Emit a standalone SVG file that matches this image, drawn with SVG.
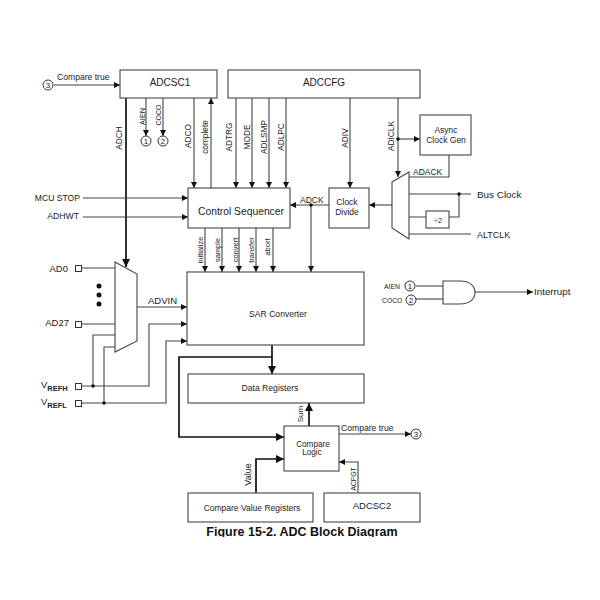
<svg xmlns="http://www.w3.org/2000/svg" width="600" height="600" viewBox="0 0 600 600">
<style>
text{font-family:"Liberation Sans",Arial,sans-serif;fill:#222;font-size:8px}
.box{fill:#fff;stroke:#444;stroke-width:1.1}
.c{fill:none;stroke:#444;stroke-width:1.1}
.a{marker-end:url(#ah)}
.t{fill:none;stroke:#111;stroke-width:1.7}
.ta{marker-end:url(#ahb)}
.dot{fill:#111}
.m{text-anchor:middle}
.l{font-size:10px}
.n{font-size:9.5px}
.r{font-size:8.3px;text-anchor:middle}
.pin{fill:#fff;stroke:#333;stroke-width:1}
.sub{font-size:7.5px;font-weight:bold}
</style>
<defs>
<marker id="ah" markerUnits="userSpaceOnUse" markerWidth="7" markerHeight="7" refX="6" refY="3" orient="auto"><path d="M0,0 L6,3 L0,6 Z" fill="#111"/></marker>
<marker id="ahb" markerUnits="userSpaceOnUse" markerWidth="9" markerHeight="9" refX="8" refY="4" orient="auto"><path d="M0,0 L8,4 L0,8 Z" fill="#111"/></marker>
</defs>
<rect width="600" height="600" fill="#fff"/>
<g id="connectors">
<path class="c a" d="M54,85H120"/>
<path class="t ta" d="M126,98V267"/>
<path class="c a" d="M146,98V136"/>
<path class="c a" d="M163,98V136"/>
<path class="c a" d="M194,98V188"/>
<path class="c a" d="M211,188V98"/>
<path class="c a" d="M236,98V188"/>
<path class="c a" d="M252,98V188"/>
<path class="c a" d="M269,98V188"/>
<path class="c a" d="M286,98V188"/>
<path class="c a" d="M350,98V188"/>
<path class="c a" d="M398,98V177"/>
<path class="c a" d="M398,139H420"/>
<path class="c" d="M449,155V177H409"/>
<path class="c" d="M409,194H471"/>
<path class="c" d="M409,217H426M449,217H459V194"/>
<path class="c" d="M409,234H471"/>
<path class="c a" d="M392,205H369"/>
<path class="c a" d="M329,205H290"/>
<path class="c a" d="M311,205V272"/>
<path class="c a" d="M83,198H188"/>
<path class="c a" d="M83,217H188"/>
<path class="c a" d="M205,228V272"/>
<path class="c a" d="M222,228V272"/>
<path class="c a" d="M239,228V272"/>
<path class="c a" d="M256,228V272"/>
<path class="c a" d="M273,228V272"/>
<path class="c" d="M81,268H115"/>
<path class="c" d="M81,324H115"/>
<path class="c" d="M81,386H93V335H115"/>
<path class="c" d="M81,403H104V347H115"/>
<path class="c a" d="M137,307H187"/>
<path class="c a" d="M93,386H149V324H187"/>
<path class="c a" d="M104,403H166V341H187"/>
<path class="t ta" d="M272,345V374"/>
<path class="t ta" d="M272,357H179V437H284"/>
<path class="t ta" d="M309,426V403"/>
<path class="c a" d="M339,434H411"/>
<path class="t ta" d="M256,493V459H284"/>
<path class="c a" d="M358,493V462H339"/>
<path class="c" d="M416,286H443"/>
<path class="c" d="M416,299H443"/>
<path class="c a" d="M475,292H533"/>
<circle class="dot" cx="398" cy="139" r="1.8"/>
<circle class="dot" cx="459" cy="194" r="1.8"/>
<circle class="dot" cx="311" cy="205" r="1.8"/>
<circle class="dot" cx="93" cy="386" r="1.8"/>
<circle class="dot" cx="104" cy="403" r="1.8"/>
</g>
<g id="labels">
<text x="57" y="80" style="font-size:8.6px">Compare true</text>
<text class="r" transform="translate(122,138) rotate(-90)">ADCH</text>
<text class="r" transform="translate(145,116.500) rotate(-90)" style="font-size:7.3px">AIEN</text>
<text class="r" transform="translate(161,115) rotate(-90)" style="font-size:7px">COCO</text>
<text class="r" transform="translate(191,136) rotate(-90)">ADCO</text>
<text class="r" transform="translate(208,137) rotate(-90)">complete</text>
<text class="r" transform="translate(232,137) rotate(-90)">ADTRG</text>
<text class="r" transform="translate(250,137) rotate(-90)">MODE</text>
<text class="r" transform="translate(267,137) rotate(-90)">ADLSMP</text>
<text class="r" transform="translate(284,137) rotate(-90)">ADLPC</text>
<text class="r" transform="translate(348,138) rotate(-90)">ADIV</text>
<text class="r" transform="translate(394,136) rotate(-90)">ADICLK</text>
<text x="413" y="175" style="font-size:8.5px">ADACK</text>
<text x="477" y="198" style="font-size:9.900px">Bus Clock</text>
<text x="477" y="238" style="font-size:9px">ALTCLK</text>
<text x="300" y="203" style="font-size:8.5px">ADCK</text>
<text x="80" y="201" text-anchor="end" style="font-size:8.6px">MCU STOP</text>
<text x="79" y="219" text-anchor="end" style="font-size:8.7px">ADHWT</text>
<text x="68" y="272" text-anchor="end" class="n">AD0</text>
<text x="69" y="326" text-anchor="end" class="n">AD27</text>
<text x="41" y="388" class="n">V<tspan dy="2.5" class="sub">REFH</tspan></text>
<text x="41" y="405" class="n">V<tspan dy="2.5" class="sub">REFL</tspan></text>
<text x="148" y="304" style="font-size:9.5px">ADVIN</text>
<text class="r" transform="translate(203,250) rotate(-90)" style="font-size:7.5px">initialize</text>
<text class="r" transform="translate(220,250) rotate(-90)" style="font-size:7.5px">sample</text>
<text class="r" transform="translate(238,250) rotate(-90)" style="font-size:7.5px">convert</text>
<text class="r" transform="translate(254,250) rotate(-90)" style="font-size:7.5px">transfer</text>
<text class="r" transform="translate(270,247) rotate(-90)" style="font-size:7.5px">abort</text>
<text class="r" transform="translate(303,414) rotate(-90)" style="font-size:8px">Sum</text>
<text x="341" y="431" style="font-size:8.6px">Compare true</text>
<text class="r" transform="translate(251,474.500) rotate(-90)" style="font-size:9px">Value</text>
<text class="r" transform="translate(356,479) rotate(-90)" style="font-size:7px">ACFGT</text>
<text x="384" y="289" style="font-size:6.8px">AIEN</text>
<text x="382" y="303" style="font-size:6.8px">COCO</text>
<text x="534" y="295" style="font-size:9.800px">Interrupt</text>
</g>
<g id="adcsc1"><rect class="box" x="120" y="70" width="97" height="28"/><text class="m l" x="170" y="86">ADCSC1</text></g>
<g id="adccfg"><rect class="box" x="228" y="70" width="192" height="28"/><text class="m l" x="324" y="86">ADCCFG</text></g>
<g id="async"><rect class="box" x="420" y="115" width="51" height="40"/><text class="m" x="446" y="133" style="font-size:8.5px">Async</text><text class="m" x="446" y="142.500" style="font-size:8.5px">Clock Gen</text></g>
<g id="control-sequencer"><rect class="box" x="188" y="188" width="102" height="40"/><text class="m" x="241" y="215" style="font-size:10.3px">Control Sequencer</text></g>
<g id="clock-divide"><rect class="box" x="329" y="188" width="40" height="40"/><text class="m" x="347" y="205" style="font-size:8.5px">Clock</text><text class="m" x="347" y="215" style="font-size:8.5px">Divide</text></g>
<g id="clock-mux"><path class="box" d="M392,182L409,172V239L392,228Z"/></g>
<g id="div2"><rect class="box" x="426" y="211" width="23" height="17"/><text class="m" x="438" y="223" style="font-size:7.5px">÷2</text></g>
<g id="input-mux"><path class="box" d="M115,262L137,274V341L115,352Z"/></g>
<g id="dots"><circle class="dot" cx="99" cy="286" r="2.5"/><circle class="dot" cx="99" cy="295" r="2.5"/><circle class="dot" cx="99" cy="304" r="2.5"/></g>
<g id="sar"><rect class="box" x="187" y="272" width="177" height="73"/><text class="m" x="278" y="317" style="font-size:8.6px">SAR Converter</text></g>
<g id="data-registers"><rect class="box" x="188" y="374" width="176" height="29"/><text class="m" x="270" y="391" style="font-size:8.6px">Data Registers</text></g>
<g id="compare-logic"><rect class="box" x="284" y="426" width="55" height="45"/><text class="m" x="313" y="447" style="font-size:8.2px">Compare</text><text class="m" x="312" y="455" style="font-size:8.2px">Logic</text></g>
<g id="compare-value"><rect class="box" x="188" y="493" width="125" height="29"/><text class="m" x="252" y="511" style="font-size:8.5px">Compare Value Registers</text></g>
<g id="adcsc2"><rect class="box" x="324" y="493" width="96" height="29"/><text class="m" x="372" y="509" style="font-size:9.5px">ADCSC2</text></g>
<g id="and-gate"><path class="box" d="M443,281H460C470,281,475,286,475,292.500C475,299,470,304,460,304H443Z"/></g>
<g id="pins">
<rect class="pin" x="75.500" y="265.500" width="6" height="6"/>
<rect class="pin" x="75.500" y="321.500" width="6" height="6"/>
<rect class="pin" x="75.500" y="383.500" width="6" height="6"/>
<rect class="pin" x="75.500" y="400.500" width="6" height="6"/>
</g>
<g id="refs">
<g><circle class="pin" cx="48" cy="85" r="5"/><text class="m" x="48" y="88" style="font-size:8px">3</text></g>
<g><circle class="pin" cx="146" cy="141" r="5"/><text class="m" x="146" y="144" style="font-size:8px">1</text></g>
<g><circle class="pin" cx="163" cy="141" r="5"/><text class="m" x="163" y="144" style="font-size:8px">2</text></g>
<g><circle class="pin" cx="410" cy="286" r="5"/><text class="m" x="410" y="289" style="font-size:8px">1</text></g>
<g><circle class="pin" cx="411" cy="300" r="5"/><text class="m" x="411" y="303" style="font-size:8px">2</text></g>
<g><circle class="pin" cx="416" cy="434" r="5"/><text class="m" x="416" y="437" style="font-size:8px">3</text></g>
</g>
<g id="caption"><text class="m" x="302" y="536" style="font-size:12.500px;font-weight:bold;fill:#111">Figure 15-2. ADC Block Diagram</text><rect x="190" y="537" width="230" height="6" fill="#fff"/></g>
</svg>
